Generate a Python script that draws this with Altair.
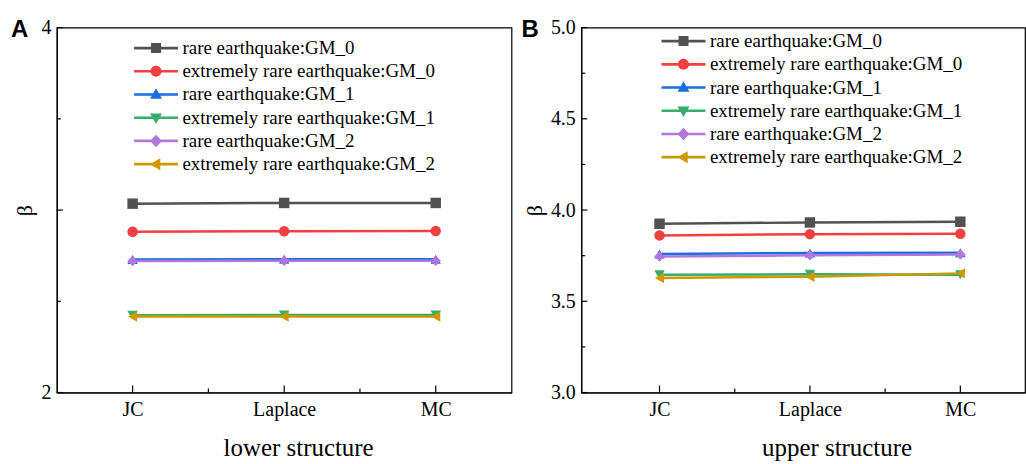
import altair as alt
import pandas as pd

categories = ["JC", "Laplace", "MC"]
series = [
    "rare earthquake:GM_0",
    "extremely rare earthquake:GM_0",
    "rare earthquake:GM_1",
    "extremely rare earthquake:GM_1",
    "rare earthquake:GM_2",
    "extremely rare earthquake:GM_2",
]
colors = ["#515151", "#F14040", "#1A6FDF", "#37AD6B", "#B177DE", "#CC9900"]
shapes = ["square", "circle", "triangle-up", "triangle-down", "diamond", "triangle-left"]

# lower structure (panel A)
lower_rare_gm0 = [3.035, 3.039, 3.039]
lower_ext_gm0 = [2.881, 2.884, 2.885]
lower_rare_gm1 = [2.729, 2.730, 2.730]
lower_ext_gm1 = [2.424, 2.425, 2.425]
lower_rare_gm2 = [2.721, 2.722, 2.722]
lower_ext_gm2 = [2.417, 2.417, 2.417]

# upper structure (panel B)
upper_rare_gm0 = [3.925, 3.932, 3.936]
upper_ext_gm0 = [3.861, 3.868, 3.870]
upper_rare_gm1 = [3.759, 3.765, 3.766]
upper_ext_gm1 = [3.645, 3.648, 3.646]
upper_rare_gm2 = [3.745, 3.752, 3.757]
upper_ext_gm2 = [3.628, 3.635, 3.653]

lower_ticks_major = [2, 3, 4]
lower_ticks_minor = [2.5, 3.5]
upper_ticks_major = [3.0, 3.5, 4.0, 4.5, 5.0]
upper_ticks_minor = [3.25, 3.75, 4.25, 4.75]
x_ticks_major = [0, 1, 2]
x_ticks_minor = [0.5, 1.5]
panel_letters = ["A", "B"]
x_titles = ["lower structure", "upper structure"]

# legend symbols: a short filled bar (the line) plus the marker
LINE = "M-4.4,-0.27H4.4V0.27H-4.4Z"
legend_shapes = [
    LINE + "M-1,-1H1V1H-1Z",
    LINE + "M-1.1,0A1.1,1.1,0,1,1,1.1,0A1.1,1.1,0,1,1,-1.1,0Z",
    LINE + "M0,-1.25L1.2,0.85H-1.2Z",
    LINE + "M0,1.25L-1.2,-0.85H1.2Z",
    LINE + "M0,-1.25L1.2,0L0,1.25L-1.2,0Z",
    LINE + "M-1.25,0L0.85,-1.2V1.2Z",
]

SERIF = "Liberation Serif"
H = 366


def make_df(vals):
    rows = []
    for s, v in zip(series, vals):
        for i, c in enumerate(categories):
            rows.append({"series": s, "cat": c, "idx": i, "value": v[i]})
    return pd.DataFrame(rows)


label_expr = "[" + ",".join("'%s'" % c for c in categories) + "][datum.value]"


def panel(vals, ydom, ymaj, ymin, yfmt, xdom, width, letter, letter_x,
          legx, legy, xtitle, title_x):
    df = make_df(vals)
    xaxis = alt.Axis(values=x_ticks_major, labelExpr=label_expr, ticks=False, grid=False,
                     domainColor="black", domainWidth=1.2, labelFont=SERIF, labelFontSize=20,
                     labelColor="black", labelBaseline="alphabetic", labelPadding=23,
                     labelFlush=False, title=xtitle, titleFont=SERIF, titleFontSize=25,
                     titleFontWeight="normal", titleColor="black", titleBaseline="alphabetic",
                     titleX=title_x, titleY=63)
    yaxis = alt.Axis(values=ymaj, format=yfmt, ticks=False, grid=False, domainColor="black",
                     domainWidth=1.2, labelFont=SERIF, labelFontSize=20, labelColor="black",
                     labelPadding=6, labelFlush=False, labelOverlap=False, title="β",
                     titleFont=SERIF, titleFontSize=22, titleFontWeight="normal",
                     titleColor="black", titlePadding=4)
    x_enc = alt.X("idx:Q", scale=alt.Scale(domain=xdom, nice=False, zero=False), axis=xaxis)
    y_enc = alt.Y("value:Q", scale=alt.Scale(domain=ydom, nice=False, zero=False), axis=yaxis)
    cscale = alt.Scale(domain=series, range=colors)

    ymaj_rules = alt.Chart(pd.DataFrame({"value": ymaj})).mark_rule(
        color="black", strokeWidth=1.2).encode(y=y_enc, x=alt.value(0), x2=alt.value(6))
    ymin_rules = alt.Chart(pd.DataFrame({"value": ymin})).mark_rule(
        color="black", strokeWidth=1.2).encode(y=y_enc, x=alt.value(0), x2=alt.value(4))
    xmaj_rules = alt.Chart(pd.DataFrame({"idx": x_ticks_major})).mark_rule(
        color="black", strokeWidth=1.2).encode(x=x_enc, y=alt.value(H), y2=alt.value(H - 7))
    xmin_rules = alt.Chart(pd.DataFrame({"idx": x_ticks_minor})).mark_rule(
        color="black", strokeWidth=1.2).encode(x=x_enc, y=alt.value(H), y2=alt.value(H - 4))

    lines = alt.Chart(df).mark_line(strokeWidth=2.5).encode(
        x=x_enc, y=y_enc, color=alt.Color("series:N", scale=cscale, legend=None),
        detail="series:N")

    point_layers = []
    for s, shp in zip(series, shapes):
        point_layers.append(
            alt.Chart(df).transform_filter(alt.datum.series == s).mark_point(
                filled=True, opacity=1, size=110, shape=shp).encode(
                x=x_enc, y=y_enc,
                color=alt.Color("series:N", scale=cscale, legend=None)))

    leg = alt.Legend(orient="none", legendX=legx, legendY=legy, title=None, labelFont=SERIF,
                     labelFontSize=19, labelColor="black", labelLimit=500, symbolSize=100,
                     symbolStrokeWidth=0, symbolOpacity=1, labelOffset=17, rowPadding=3.3,
                     padding=0)
    legend_layer = alt.Chart(df).transform_filter("false").mark_point(
        filled=True, opacity=1).encode(
        x=x_enc, y=y_enc,
        color=alt.Color("series:N", scale=cscale, legend=leg),
        shape=alt.Shape("series:N", scale=alt.Scale(domain=series, range=legend_shapes),
                        legend=leg))

    letter_layer = alt.Chart(pd.DataFrame({"letter": [letter]})).mark_text(
        align="left", baseline="alphabetic", font="Liberation Sans", fontSize=24,
        fontWeight="bold", color="black").encode(
        text="letter:N", x=alt.value(letter_x), y=alt.value(9))

    return alt.layer(ymaj_rules, ymin_rules, xmaj_rules, xmin_rules, lines, *point_layers,
                     legend_layer, letter_layer).resolve_legend(
        color="independent", shape="independent").properties(width=width, height=H)


pA = panel([lower_rare_gm0, lower_ext_gm0, lower_rare_gm1, lower_ext_gm1, lower_rare_gm2,
            lower_ext_gm2], [2, 4], lower_ticks_major, lower_ticks_minor, "d",
           [-0.5, 2.5], 456, panel_letters[0], -46, 90, 11, x_titles[0], 242)
pB = panel([upper_rare_gm0, upper_ext_gm0, upper_rare_gm1, upper_ext_gm1, upper_rare_gm2,
            upper_ext_gm2], [3, 5], upper_ticks_major, upper_ticks_minor, ".1f",
           [-0.52, 2.43], 445, panel_letters[1], -60, 93, 4, x_titles[1], 256)

chart = alt.hconcat(pA, pB, spacing=8).resolve_scale(
    color="independent", shape="independent"
).properties(
    padding={"left": 10, "top": 16, "right": 0, "bottom": 0},
    background="white",
).configure_view(stroke="black", strokeWidth=1.2)

chart.save("out.html", embed_options={"renderer": "svg", "actions": False})
